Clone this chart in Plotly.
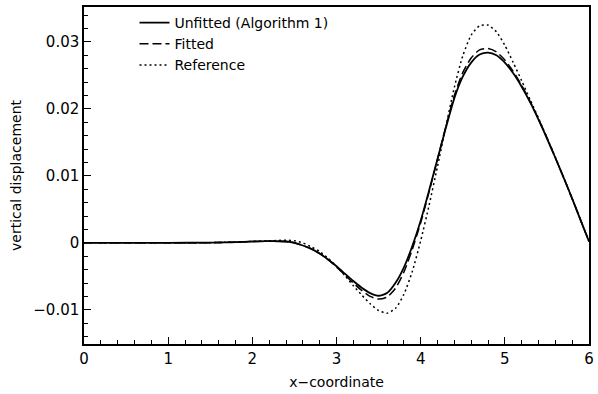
import plotly.graph_objects as go

x_vals = [0.0, 0.5, 1.0, 1.5, 1.6, 1.7, 1.8, 1.9, 2.0, 2.1, 2.2, 2.3, 2.4, 2.5, 2.6, 2.7,
          2.8, 2.9, 3.0, 3.1, 3.2, 3.3, 3.4, 3.5, 3.6, 3.7, 3.8, 3.9, 4.0, 4.1, 4.2, 4.3,
          4.4, 4.5, 4.6, 4.7, 4.8, 4.9, 5.0, 5.1, 5.2, 5.3, 5.4, 5.5, 5.6, 5.7, 5.8, 5.9, 6.0]

unfitted = [0.0, 0.0, 0.0, 0.00003, 0.00005, 0.00008, 0.0001, 0.00015, 0.0002, 0.00023,
            0.00025, 0.00024, 0.0002, 0.0000, -0.0004, -0.0009, -0.0016, -0.0025, -0.0035,
            -0.0046, -0.0057, -0.0067, -0.0075, -0.0079, -0.0075, -0.0060, -0.0037, -0.0005,
            0.0033, 0.0078, 0.0125, 0.0172, 0.0216, 0.0248, 0.0269, 0.0281, 0.0284, 0.0280,
            0.0269, 0.0253, 0.0233, 0.0210, 0.0184, 0.0156, 0.0127, 0.0097, 0.0066, 0.0034,
            0.0002]

fitted = [0.0, 0.0, 0.0, 0.00003, 0.00005, 0.00008, 0.0001, 0.00015, 0.0002, 0.00023,
          0.00025, 0.00024, 0.0002, 0.0000, -0.0004, -0.0009, -0.0016, -0.0025, -0.0036,
          -0.0048, -0.0060, -0.0071, -0.0080, -0.0084, -0.0081, -0.0068, -0.0044, -0.0010,
          0.0030, 0.0076, 0.0125, 0.0174, 0.0220, 0.0254, 0.0276, 0.0288, 0.0290, 0.0285,
          0.0273, 0.0256, 0.0235, 0.0211, 0.0185, 0.0157, 0.0127, 0.0097, 0.0066, 0.0034,
          0.0002]

reference = [0.0, 0.0, 0.0, 0.00003, 0.00005, 0.00008, 0.0001, 0.00015, 0.0002, 0.00025,
             0.0003, 0.00035, 0.0004, 0.0003, 0.0000, -0.0006, -0.0013, -0.0023, -0.0035,
             -0.0049, -0.0064, -0.0078, -0.0091, -0.0101, -0.0105, -0.0098, -0.0077, -0.0043,
             0.0003, 0.0056, 0.0114, 0.0174, 0.0232, 0.0279, 0.0310, 0.0324, 0.0325, 0.0315,
             0.0295, 0.0269, 0.0242, 0.0214, 0.0186, 0.0157, 0.0128, 0.0097, 0.0066, 0.0034,
             0.0002]

series_names = ["Unfitted (Algorithm 1)", "Fitted", "Reference"]
x_ticks = [0, 1, 2, 3, 4, 5, 6]
y_ticks = [-0.01, 0, 0.01, 0.02, 0.03]
y_tick_labels = ["\u22120.01", "0", "0.01", "0.02", "0.03"]

FONT = "DejaVu Sans"

fig = go.Figure()
fig.add_trace(go.Scatter(x=x_vals, y=unfitted, name=series_names[0], mode="lines",
                         line=dict(color="black", width=1.8, shape="spline", smoothing=0.6)))
fig.add_trace(go.Scatter(x=x_vals, y=fitted, name=series_names[1], mode="lines",
                         line=dict(color="black", width=1.5, dash="9px,4px", shape="spline", smoothing=0.6)))
fig.add_trace(go.Scatter(x=x_vals, y=reference, name=series_names[2], mode="lines",
                         line=dict(color="black", width=1.5, dash="2px,3px", shape="spline", smoothing=0.6)))

axis_common = dict(
    showline=True, linecolor="black", linewidth=1.5, mirror=True,
    showgrid=False, zeroline=False, ticks="inside", ticklen=7, tickwidth=1,
    tickcolor="black", tickfont=dict(family=FONT, size=15, color="black"),
)

fig.update_xaxes(**axis_common, range=[0, 6], tickvals=x_ticks,
                 minor=dict(ticks="inside", ticklen=4, dtick=0.2, tickcolor="black", showgrid=False),
                 title=dict(text="x\u2212coordinate", font=dict(family=FONT, size=14, color="black"), standoff=10))
fig.update_yaxes(**axis_common, range=[-0.0151, 0.0352], tickvals=y_ticks, ticktext=y_tick_labels,
                 minor=dict(ticks="inside", ticklen=4, dtick=0.002, tick0=0, tickcolor="black", showgrid=False),
                 title=dict(text="vertical displacement", font=dict(family=FONT, size=14, color="black"), standoff=8))

fig.update_layout(
    width=598, height=394,
    margin=dict(l=84, r=4, t=7, b=50),
    plot_bgcolor="white", paper_bgcolor="white",
    font=dict(family=FONT, size=15, color="black"),
    legend=dict(x=0.10, y=1.0, xanchor="left", yanchor="top", bgcolor="rgba(0,0,0,0)",
                font=dict(family=FONT, size=14, color="black"), tracegroupgap=0),
    showlegend=True,
)

fig.write_html("out.html")
